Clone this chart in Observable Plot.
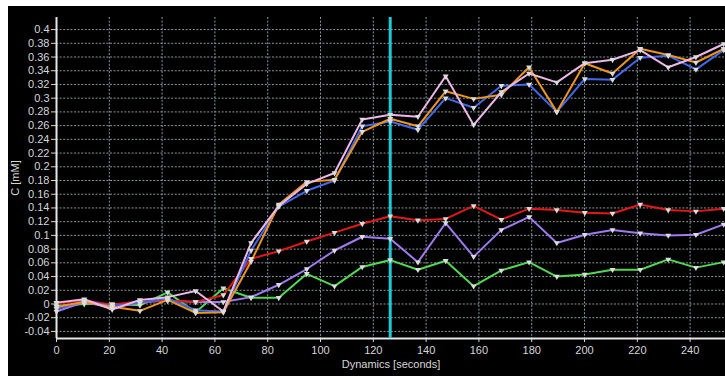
<!DOCTYPE html>
<html>
<head>
<meta charset="utf-8">
<script src="https://cdn.jsdelivr.net/npm/d3@7"></script>
<script src="https://cdn.jsdelivr.net/npm/@observablehq/plot@0.6"></script>
<style>
  html, body { margin: 0; padding: 0; background: #fff; }
  #chart { padding: 6px 0 0 8px; width: 717px; height: 370px; }
  #chart svg { display: block; }
</style>
</head>
<body>
<div id="chart"></div>
<script>
const times = [0, 10.5, 21.1, 31.6, 42.1, 52.7, 63.2, 73.7, 84.2, 94.8, 105.3, 115.8, 126.4, 136.9, 147.4, 158, 168.5, 179, 189.5, 200.1, 210.6, 221.1, 231.7, 242.2, 252.7];

const series1 = [-0.003, 0.000, 0.000, -0.002, 0.017, -0.012, 0.023, 0.009, 0.009, 0.044, 0.026, 0.054, 0.064, 0.050, 0.063, 0.026, 0.049, 0.061, 0.040, 0.043, 0.050, 0.050, 0.065, 0.053, 0.061];
const series2 = [-0.011, 0.003, -0.006, 0.002, 0.005, 0.003, 0.003, 0.010, 0.028, 0.051, 0.078, 0.098, 0.095, 0.061, 0.118, 0.069, 0.108, 0.127, 0.089, 0.101, 0.108, 0.103, 0.100, 0.101, 0.116];
const series3 = [0.001, 0.005, -0.001, 0.004, 0.005, 0.003, 0.013, 0.066, 0.077, 0.091, 0.104, 0.117, 0.128, 0.122, 0.124, 0.143, 0.123, 0.139, 0.137, 0.133, 0.132, 0.145, 0.137, 0.135, 0.139];
const series4 = [-0.007, 0.004, -0.003, 0.002, 0.008, -0.009, -0.011, 0.078, 0.142, 0.165, 0.180, 0.259, 0.266, 0.254, 0.300, 0.286, 0.318, 0.320, 0.280, 0.328, 0.327, 0.359, 0.362, 0.342, 0.370];
const series5 = [-0.004, 0.003, -0.004, -0.010, 0.006, -0.013, -0.012, 0.062, 0.145, 0.178, 0.181, 0.251, 0.270, 0.259, 0.310, 0.299, 0.305, 0.345, 0.280, 0.351, 0.336, 0.372, 0.363, 0.352, 0.372];
const series6 = [0.002, 0.007, -0.008, 0.006, 0.010, 0.019, -0.011, 0.089, 0.143, 0.175, 0.191, 0.269, 0.276, 0.273, 0.332, 0.261, 0.309, 0.336, 0.323, 0.351, 0.356, 0.370, 0.345, 0.360, 0.379];

const seriesNames  = ["S1", "S2", "S3", "S4", "S5", "S6"];
const seriesValues = [series1, series2, series3, series4, series5, series6];
const seriesColors = ["#52d852", "#a07af0", "#e31818", "#4468e8", "#ec961f", "#ebb8e8"];

const xTicks = [0, 20, 40, 60, 80, 100, 120, 140, 160, 180, 200, 220, 240];
const yTicks = [-0.04, -0.02, 0, 0.02, 0.04, 0.06, 0.08, 0.1, 0.12, 0.14, 0.16, 0.18, 0.2, 0.22, 0.24, 0.26, 0.28, 0.3, 0.32, 0.34, 0.36, 0.38, 0.4];
const cursorTime = [126.4];

const xLabel = "Dynamics [seconds]";
const yLabel = "C [mM]";

const xDomain = [0, 253.4];
const yDomain = [-0.0503, 0.4176];

const rows = [];
seriesNames.forEach((s, k) => {
  times.forEach((t, i) => rows.push({s, t, v: seriesValues[k][i]}));
});

const fmt = d => String(+d.toFixed(2));
const gridStyle = {stroke: "#8b969b", strokeOpacity: 1, strokeDasharray: "2,1.6", strokeWidth: 1};

const chart = Plot.plot({
  width: 717,
  height: 370,
  marginLeft: 48,
  marginRight: 0,
  marginTop: 11,
  marginBottom: 38,
  style: {background: "#000", color: "#d6d6d6", fontFamily: "'Liberation Sans', Arial, sans-serif", fontSize: "11px"},
  x: {domain: xDomain},
  y: {domain: yDomain},
  color: {type: "ordinal", domain: seriesNames, range: seriesColors},
  marks: [
    Plot.gridY(yTicks, gridStyle),
    Plot.gridX(xTicks, gridStyle),
    Plot.axisY(yTicks, {tickFormat: fmt, tickSize: 5, tickPadding: 2, stroke: "#d6d6d6",
      label: yLabel, labelAnchor: "center", labelOffset: 45, labelArrow: "none"}),
    Plot.axisX(xTicks, {tickFormat: d => String(d), tickSize: 4, tickPadding: 4, stroke: "#d6d6d6",
      label: xLabel, labelAnchor: "center", labelOffset: 29, labelArrow: "none"}),
    Plot.ruleX([xDomain[0]], {stroke: "#e6e6e6", strokeWidth: 2}),
    Plot.ruleY([yDomain[0]], {stroke: "#e6e6e6", strokeWidth: 2}),
    Plot.line(rows, {x: "t", y: "v", z: "s", stroke: "s", strokeWidth: 2}),
    Plot.ruleX(cursorTime, {stroke: "#1fc8d2", strokeWidth: 3}),
    Plot.dot(rows, {x: "t", y: "v", symbol: "triangle", r: 2.2, fill: "#dcdcdc", rotate: 180})
  ]
});
document.getElementById("chart").appendChild(chart);
</script>
</body>
</html>
